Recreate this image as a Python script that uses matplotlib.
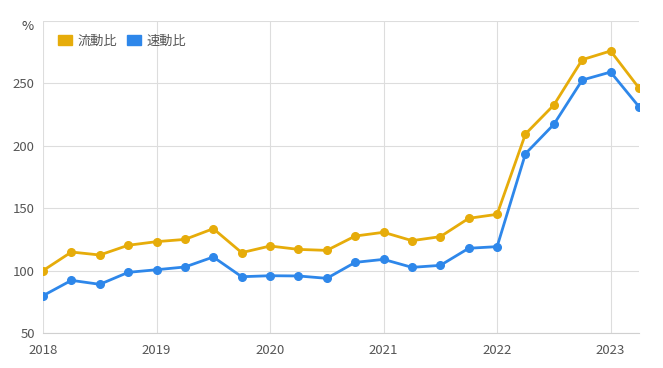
import matplotlib.pyplot as plt

plt.rcParams['font.family'] = ['Noto Sans CJK JP', 'DejaVu Sans']

# quarterly data points (2018 Q1 .. 2023 Q2)
quarters = [2018 + 0.25 * i for i in range(22)]
current_ratio = [100.0, 114.9, 112.5, 120.3, 123.2, 125.0, 133.6, 114.4, 119.7, 117.0, 116.2,
                 127.7, 130.7, 124.0, 127.2, 141.9, 145.1, 209.5, 232.7, 269.0, 276.0, 246.3]
quick_ratio = [79.9, 92.2, 89.0, 98.6, 100.7, 102.9, 110.9, 95.1, 95.9, 95.7, 93.8,
               106.6, 109.0, 102.6, 104.2, 117.9, 119.2, 193.7, 217.2, 252.7, 259.1, 231.3]
series_names = ['流動比', '速動比']
year_ticks = [2018, 2019, 2020, 2021, 2022, 2023]
value_ticks = [50, 100, 150, 200, 250]

yellow = '#E6AC0A'
blue = '#2E87EA'

fig = plt.figure(figsize=(6.63, 3.68), dpi=100)
ax = fig.add_axes([0.0649, 0.0951, 0.8989, 0.8478])

ax.plot(quarters, current_ratio, color=yellow, lw=2, marker='o', ms=5.5, label=series_names[0], zorder=3)
ax.plot(quarters, quick_ratio, color=blue, lw=2, marker='o', ms=5.5, label=series_names[1], zorder=3)

ax.set_xlim(2018, 2023.25)
ax.set_ylim(50, 300)
ax.set_xticks(year_ticks)
ax.set_xticklabels([str(y) for y in year_ticks])
ax.set_yticks(value_ticks + [300])
ax.set_yticklabels([str(v) for v in value_ticks] + [''])
ax.grid(True, color='#dddddd', lw=0.8)
ax.set_axisbelow(True)
for s in ['top', 'right', 'left']:
    ax.spines[s].set_visible(False)
ax.spines['bottom'].set_color('#d0d0d0')
ax.tick_params(length=0, labelsize=9.5, colors='#555555', pad=6)
ax.tick_params(axis='x', pad=8)

fig.text(28 / 663, 1 - 26 / 368, '%', fontsize=9.5, color='#444444', ha='center', va='center')

leg = ax.legend(loc='upper left', bbox_to_anchor=(0.005, 0.995), ncol=2, frameon=False,
                handles=[plt.Rectangle((0, 0), 1, 1, color=yellow), plt.Rectangle((0, 0), 1, 1, color=blue)],
                labels=series_names, fontsize=9.5, handlelength=1.1, handleheight=0.8,
                handletextpad=0.4, columnspacing=0.7, labelcolor='#555555')

fig.savefig('out.png', dpi=100)
